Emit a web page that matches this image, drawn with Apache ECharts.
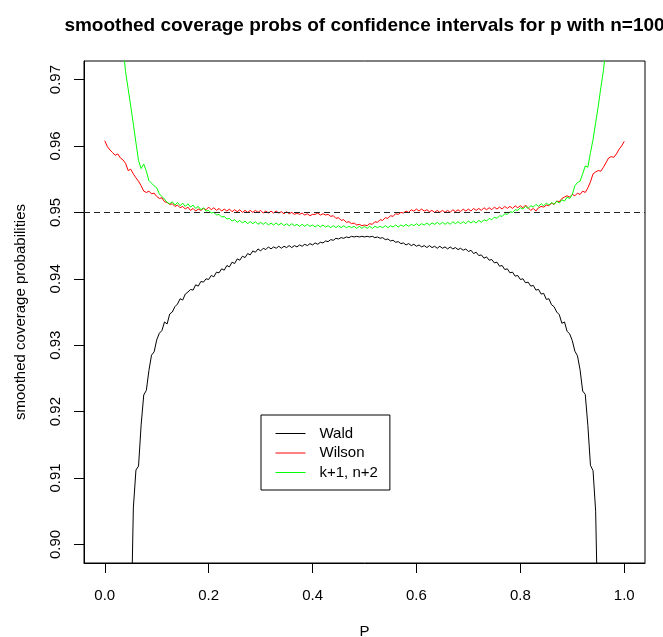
<!DOCTYPE html>
<html><head><meta charset="utf-8">
<script src="https://cdn.jsdelivr.net/npm/echarts@6/dist/echarts.min.js"></script>
<style>html,body{margin:0;padding:0;background:#fff}#c{width:663px;height:637px}</style>
</head><body><div id="c"></div>
<script>
const pGrid = [
0.000,0.005,0.010,0.015,0.020,0.025,0.030,0.035,0.040,0.045,
0.050,0.055,0.060,0.065,0.070,0.075,0.080,0.085,0.090,0.095,
0.100,0.105,0.110,0.115,0.120,0.125,0.130,0.135,0.140,0.145,
0.150,0.155,0.160,0.165,0.170,0.175,0.180,0.185,0.190,0.195,
0.200,0.205,0.210,0.215,0.220,0.225,0.230,0.235,0.240,0.245,
0.250,0.255,0.260,0.265,0.270,0.275,0.280,0.285,0.290,0.295,
0.300,0.305,0.310,0.315,0.320,0.325,0.330,0.335,0.340,0.345,
0.350,0.355,0.360,0.365,0.370,0.375,0.380,0.385,0.390,0.395,
0.400,0.405,0.410,0.415,0.420,0.425,0.430,0.435,0.440,0.445,
0.450,0.455,0.460,0.465,0.470,0.475,0.480,0.485,0.490,0.495,
0.500,
0.505,0.510,0.515,0.520,0.525,0.530,0.535,0.540,0.545,0.550,
0.555,0.560,0.565,0.570,0.575,0.580,0.585,0.590,0.595,0.600,
0.605,0.610,0.615,0.620,0.625,0.630,0.635,0.640,0.645,0.650,
0.655,0.660,0.665,0.670,0.675,0.680,0.685,0.690,0.695,0.700,
0.705,0.710,0.715,0.720,0.725,0.730,0.735,0.740,0.745,0.750,
0.755,0.760,0.765,0.770,0.775,0.780,0.785,0.790,0.795,0.800,
0.805,0.810,0.815,0.820,0.825,0.830,0.835,0.840,0.845,0.850,
0.855,0.860,0.865,0.870,0.875,0.880,0.885,0.890,0.895,0.900,
0.905,0.910,0.915,0.920,0.925,0.930,0.935,0.940,0.945,0.950,
0.955,0.960,0.965,0.970,0.975,0.980,0.985,0.990,0.995,1.000
];
const wald = [
0.600,0.620,0.640,0.680,0.720,0.760,0.790,0.820,0.845,0.865,
0.885,0.9055,0.9112,0.9118,0.9180,0.9225,0.9232,0.9262,0.9285,0.9290,
0.9308,0.9318,0.9322,0.9335,0.9332,0.9347,0.9350,0.9358,0.9362,0.9370,
0.9368,0.9377,0.9380,0.9384,0.9383,0.9391,0.9389,0.9396,0.9395,0.9400,
0.9399,0.9405,0.9403,0.9410,0.9409,0.9415,0.9413,0.9420,0.9418,0.9425,
0.9423,0.9430,0.9428,0.9434,0.9432,0.9438,0.9436,0.9442,0.9440,0.9445,
0.9442,0.9446,0.9444,0.9448,0.9445,0.9448,0.9446,0.9449,0.9446,0.9449,
0.9447,0.9450,0.9447,0.9450,0.9448,0.9451,0.9449,0.9452,0.9450,0.9453,
0.9451,0.9454,0.9452,0.9455,0.9454,0.9457,0.9456,0.9459,0.9458,0.9461,
0.9460,0.9462,0.9461,0.9463,0.9462,0.9464,0.9463,0.9464,0.9463,0.9464,
0.9463,
0.9464,0.9463,0.9464,0.9462,0.9463,0.9461,0.9462,0.9459,0.9460,0.9457,
0.9458,0.9455,0.9456,0.9453,0.9454,0.9451,0.9453,0.9450,0.9452,0.9449,
0.9451,0.9448,0.9450,0.9447,0.9450,0.9447,0.9449,0.9446,0.9449,0.9446,
0.9448,0.9445,0.9448,0.9445,0.9447,0.9444,0.9446,0.9443,0.9445,0.9441,
0.9443,0.9438,0.9440,0.9435,0.9436,0.9431,0.9433,0.9428,0.9429,0.9424,
0.9425,0.9419,0.9420,0.9414,0.9415,0.9409,0.9410,0.9404,0.9405,0.9399,
0.9400,0.9394,0.9395,0.9389,0.9390,0.9383,0.9384,0.9377,0.9378,0.9369,
0.9370,0.9361,0.9358,0.9350,0.9346,0.9333,0.9335,0.9321,0.9317,0.9307,
0.9291,0.9284,0.9263,0.9231,0.9226,0.9179,0.9119,0.9111,0.9050,0.8850,
0.8650,0.8450,0.8200,0.7900,0.7600,0.7200,0.6800,0.6400,0.6200,0.6000
];
const wilson = [
0.9608,0.9599,0.9594,0.9590,0.9586,0.9588,0.9582,0.9579,0.9574,0.9563,
0.9565,0.9558,0.9552,0.9547,0.9540,0.9532,0.9530,0.9532,0.9528,0.9529,
0.9524,0.9521,0.9522,0.9516,0.9515,0.9512,0.9513,0.9509,0.9511,0.9507,
0.9509,0.9505,0.9508,0.9503,0.9506,0.9502,0.9505,0.9503,0.9506,0.9504,
0.9508,0.9504,0.9507,0.9503,0.9506,0.9502,0.9505,0.9502,0.9505,0.9501,
0.9504,0.9501,0.9504,0.9500,0.9503,0.9500,0.9503,0.9500,0.9503,0.9500,
0.9503,0.9499,0.9502,0.9499,0.9502,0.9499,0.9502,0.9499,0.9501,0.9498,
0.9501,0.9498,0.9500,0.9497,0.9499,0.9497,0.9499,0.9496,0.9498,0.9495,
0.9497,0.9497,0.9499,0.9496,0.9498,0.9496,0.9497,0.9494,0.9495,0.9491,
0.9492,0.9488,0.9489,0.9485,0.9486,0.9483,0.9484,0.9481,0.9482,0.9480,
0.9481,
0.9480,0.9483,0.9482,0.9486,0.9485,0.9489,0.9488,0.9492,0.9491,0.9495,
0.9494,0.9498,0.9497,0.9500,0.9499,0.9502,0.9500,0.9504,0.9502,0.9505,
0.9502,0.9505,0.9502,0.9504,0.9501,0.9503,0.9500,0.9503,0.9500,0.9503,
0.9500,0.9503,0.9500,0.9504,0.9501,0.9504,0.9501,0.9505,0.9502,0.9505,
0.9502,0.9506,0.9503,0.9506,0.9503,0.9507,0.9504,0.9507,0.9504,0.9508,
0.9505,0.9508,0.9505,0.9509,0.9506,0.9509,0.9506,0.9510,0.9507,0.9510,
0.9507,0.9511,0.9507,0.9503,0.9506,0.9502,0.9507,0.9509,0.9508,0.9511,
0.9510,0.9514,0.9512,0.9517,0.9516,0.9521,0.9523,0.9525,0.9523,0.9527,
0.9525,0.9529,0.9527,0.9532,0.9530,0.9537,0.9546,0.9558,0.9561,0.9563,
0.9562,0.9568,0.9575,0.9582,0.9584,0.9583,0.9588,0.9595,0.9600,0.9607
];
const plusTwo = [
1.010,1.005,1.000,0.995,0.990,0.985,0.980,0.9750,0.9712,0.9686,
0.9660,0.9633,0.9605,0.9578,0.9566,0.9573,0.9562,0.9548,0.9544,0.9540,
0.9537,0.9528,0.9524,0.9520,0.9515,0.9513,0.9516,0.9511,0.9515,0.9510,
0.9514,0.9509,0.9513,0.9508,0.9511,0.9506,0.9509,0.9504,0.9507,0.9502,
0.9503,0.9499,0.9500,0.9496,0.9497,0.9493,0.9494,0.9490,0.9491,0.9487,
0.9489,0.9485,0.9488,0.9484,0.9487,0.9483,0.9486,0.9483,0.9486,0.9482,
0.9485,0.9482,0.9485,0.9481,0.9484,0.9481,0.9484,0.9481,0.9484,0.9480,
0.9483,0.9480,0.9483,0.9480,0.9482,0.9479,0.9482,0.9479,0.9482,0.9479,
0.9481,0.9478,0.9481,0.9478,0.9481,0.9478,0.9480,0.9477,0.9480,0.9477,
0.9480,0.9477,0.9480,0.9477,0.9479,0.9477,0.9479,0.9476,0.9479,0.9476,
0.9479,
0.9476,0.9479,0.9476,0.9479,0.9477,0.9479,0.9477,0.9480,0.9477,0.9480,
0.9478,0.9481,0.9478,0.9481,0.9479,0.9482,0.9479,0.9482,0.9480,0.9483,
0.9480,0.9483,0.9481,0.9484,0.9481,0.9484,0.9482,0.9485,0.9482,0.9485,
0.9482,0.9485,0.9482,0.9486,0.9483,0.9486,0.9483,0.9486,0.9483,0.9487,
0.9484,0.9487,0.9484,0.9488,0.9485,0.9489,0.9487,0.9491,0.9489,0.9493,
0.9491,0.9495,0.9494,0.9498,0.9497,0.9501,0.9500,0.9504,0.9503,0.9507,
0.9505,0.9509,0.9506,0.9510,0.9508,0.9512,0.9509,0.9513,0.9510,0.9514,
0.9511,0.9515,0.9512,0.9517,0.9514,0.9519,0.9517,0.9523,0.9521,0.9527,
0.9540,0.9545,0.9547,0.9558,0.9570,0.9568,0.9590,0.9610,0.9635,0.9660,
0.9688,0.9714,0.9750,0.980,0.985,0.990,0.995,1.000,1.005,1.010
];
const seriesNames = ['Wald', 'Wilson', 'k+1, n+2'];
const seriesColors = ['#000000', '#ff0000', '#00ff00'];
const xTicks = [0.0, 0.2, 0.4, 0.6, 0.8, 1.0];
const yTicks = [0.90, 0.91, 0.92, 0.93, 0.94, 0.95, 0.96, 0.97];
const refLevel = [0.95];
const titleText = 'smoothed coverage probs of confidence intervals for p with n=100';
const xTitle = 'P';
const yTitle = 'smoothed coverage probabilities';

const FF = '"Liberation Sans", Arial, Helvetica, sans-serif';
const chart = echarts.init(document.getElementById('c'), null, {renderer: 'canvas'});
const allValues = [wald, wilson, plusTwo];
const series = allValues.map((vals, k) => ({
  name: seriesNames[k],
  type: 'line',
  data: pGrid.map((p, i) => [p, vals[i]]),
  symbol: 'none',
  showSymbol: false,
  clip: true,
  color: seriesColors[k],
  lineStyle: {width: 1, color: seriesColors[k]},
  itemStyle: {color: seriesColors[k]},
  emphasis: {disabled: true},
  animation: false,
  z: 3
}));
series[0].markLine = {
  silent: true,
  symbol: ['none', 'none'],
  label: {show: false},
  lineStyle: {type: [6, 4], color: '#222', width: 1},
  emphasis: {disabled: true},
  animation: false,
  data: refLevel.map(v => ({yAxis: v}))
};

chart.setOption({
  animation: false,
  backgroundColor: '#ffffff',
  title: {
    text: titleText,
    left: 364.5,
    textAlign: 'center',
    top: 16,
    padding: 0,
    textStyle: {fontSize: 19, fontWeight: 'bold', fontFamily: FF, color: '#000'}
  },
  legend: {
    orient: 'vertical',
    left: 261,
    top: 415,
    borderColor: '#000',
    borderWidth: 1,
    borderRadius: 0,
    padding: [11, 12, 10, 14],
    itemWidth: 30,
    itemHeight: 14,
    itemGap: 4.5,
    selectedMode: false,
    data: seriesNames,
    itemStyle: {opacity: 0, borderWidth: 0},
    lineStyle: {width: 1},
    textStyle: {fontSize: 15, fontFamily: FF, color: '#000', padding: [0, 0, 0, 9]}
  },
  grid: {
    left: 84, right: 18, top: 61, bottom: 74, outerBoundsMode: 'none',
    show: true, borderColor: '#000', borderWidth: 1, backgroundColor: 'transparent'
  },
  xAxis: {
    type: 'value', min: -0.04, max: 1.04,
    axisLine: {show: true, onZero: false, lineStyle: {color: '#000', width: 1}},
    splitLine: {show: false},
    axisTick: {show: true, inside: false, length: 10, customValues: xTicks, lineStyle: {color: '#000', width: 1}},
    axisLabel: {customValues: xTicks, formatter: v => v.toFixed(1), margin: 25, fontSize: 15, fontFamily: FF, color: '#000'},
    name: xTitle, nameLocation: 'middle', nameGap: 61, nameMoveOverlap: false,
    nameTextStyle: {fontSize: 15, fontFamily: FF, color: '#000'}
  },
  yAxis: {
    type: 'value', min: 0.8972, max: 0.9728,
    axisLine: {show: true, onZero: false, lineStyle: {color: '#000', width: 1}},
    splitLine: {show: false},
    axisTick: {show: true, inside: false, length: 10, customValues: yTicks, lineStyle: {color: '#000', width: 1}},
    axisLabel: {customValues: yTicks, rotate: 90, formatter: v => v.toFixed(2), margin: 21, fontSize: 15, fontFamily: FF, color: '#000'},
    name: yTitle, nameLocation: 'middle', nameGap: 56, nameMoveOverlap: false,
    nameTextStyle: {fontSize: 15, fontFamily: FF, color: '#000'}
  },
  series: series
});
</script>
</body></html>
